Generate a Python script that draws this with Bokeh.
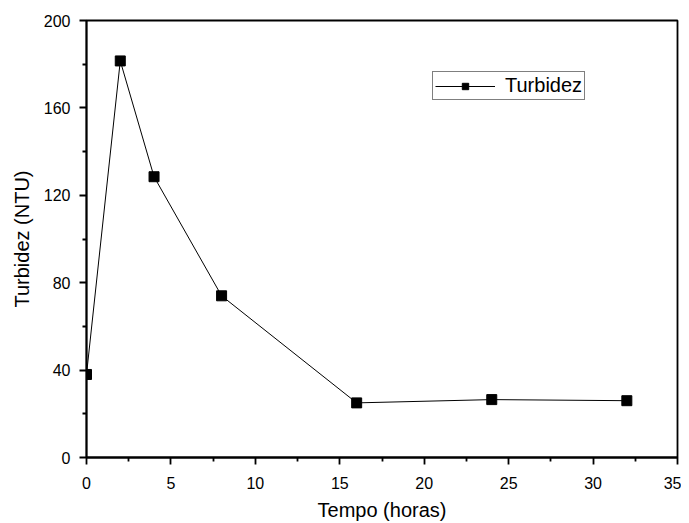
from bokeh.plotting import figure
from bokeh.models import Range1d, FixedTicker, Legend, LegendItem
from bokeh.embed import file_html
from bokeh.resources import INLINE

tempo = [0, 2, 4, 8, 16, 24, 32]
turbidez = [38, 181.5, 128.5, 74, 25, 26.5, 26]
x_ticks = [0, 5, 10, 15, 20, 25, 30, 35]
x_minor = [2.5, 7.5, 12.5, 17.5, 22.5, 27.5, 32.5]
y_ticks = [0, 40, 80, 120, 160, 200]
y_minor = [20, 60, 100, 140, 180]

FONT = "Liberation Sans"

p = figure(width=681, height=523, output_backend="svg", toolbar_location=None,
           x_range=Range1d(0, 35), y_range=Range1d(0, 200),
           min_border_left=86, min_border_right=4, min_border_top=20, min_border_bottom=65)
p.grid.visible = False
p.outline_line_color = "black"
p.outline_line_width = 1.8
p.background_fill_color = "white"
p.border_fill_color = "white"

r_line = p.line(tempo, turbidez, line_color="black", line_width=1)
r_pts = p.scatter(tempo, turbidez, marker="square", size=10, fill_color="black", line_color="black")

for ax, t, m in ((p.xaxis[0], x_ticks, x_minor), (p.yaxis[0], y_ticks, y_minor)):
    ax.ticker = FixedTicker(ticks=t, minor_ticks=m)
    ax.axis_line_width = 1.8
    ax.major_tick_line_width = 1.8
    ax.minor_tick_line_width = 1.8
    ax.major_tick_out = 7
    ax.major_tick_in = 0
    ax.minor_tick_out = 4
    ax.minor_tick_in = 0
    ax.major_label_text_font = FONT
    ax.major_label_text_font_size = "16px"
    ax.major_label_text_color = "black"
    ax.axis_label_text_font = FONT
    ax.axis_label_text_font_size = "20px"
    ax.axis_label_text_font_style = "normal"
    ax.axis_label_text_color = "black"

p.xaxis.axis_label = "Tempo (horas)"
p.yaxis.axis_label = "Turbidez (NTU)"
p.xaxis.major_label_standoff = 12
p.xaxis.axis_label_standoff = 7
p.yaxis.major_label_standoff = 9
p.yaxis.axis_label_standoff = 8

legend = Legend(items=[LegendItem(label="Turbidez", renderers=[r_line, r_pts])],
                location=(346, 357))
legend.label_text_font = FONT
legend.label_text_font_size = "20px"
legend.label_text_color = "black"
legend.border_line_color = "black"
legend.border_line_width = 1
legend.glyph_width = 60
legend.glyph_height = 16
legend.padding = 2
legend.margin = 0
legend.label_standoff = 10
legend.label_height = 16
legend.background_fill_alpha = 1
p.add_layout(legend, "center")

open("out.html", "w").write(file_html(p, INLINE))
